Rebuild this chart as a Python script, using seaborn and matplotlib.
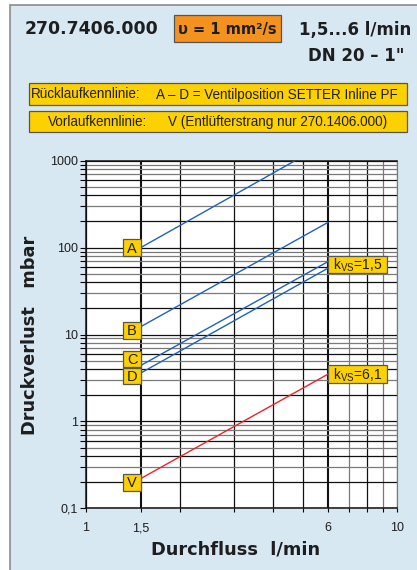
import numpy as np
import pandas as pd
import seaborn as sns
import matplotlib.pyplot as plt
from matplotlib import font_manager
from matplotlib.patches import Rectangle
from matplotlib.transforms import ScaledTranslation
from matplotlib.ticker import LogLocator, NullLocator, NullFormatter

# Kennlinien, Anfangs- und Endpunkt (Durchfluss l/min, Druckverlust mbar)
curves = ['A', 'B', 'C', 'D', 'V']
flow_A = [1.5, 4.7]
loss_A = [100, 1000]
flow_B = [1.5, 6.0]
loss_B = [12.3, 195]
flow_C = [1.5, 6.0]
loss_C = [4.4, 69]
flow_D = [1.5, 6.0]
loss_D = [3.6, 58]
flow_V = [1.5, 6.0]
loss_V = [0.22, 3.5]

x_ticks = [1, 1.5, 2, 3, 4, 5, 6, 7, 8, 9, 10]
x_ticklabels = ['1', '1,5', '', '', '', '', '6', '', '', '', '10']
y_ticks = [0.1, 1, 10, 100, 1000]
y_ticklabels = ['0,1', '1', '10', '100', '1000']
kvs_text = {'D': '1,5', 'V': '6,1'}

flows = {'A': flow_A, 'B': flow_B, 'C': flow_C, 'D': flow_D, 'V': flow_V}
losses = {'A': loss_A, 'B': loss_B, 'C': loss_C, 'D': loss_D, 'V': loss_V}
df = pd.DataFrame([(c, q, p) for c in curves for q, p in zip(flows[c], losses[c])],
                  columns=['curve', 'flow', 'loss'])

sns.set_style('white')
plt.rcParams['font.family'] = ['DejaVu Sans']
names = {f.name for f in font_manager.fontManager.ttflist}
NARROW = 'Liberation Sans Narrow' if 'Liberation Sans Narrow' in names else 'Liberation Sans'
ns = 1.0 if NARROW == 'Liberation Sans Narrow' else 0.82

W, H = 417, 570
BLUE_BG = '#d8e8f2'
YELLOW = '#fdd000'
ORANGE = '#f5921e'
EDGE = '#555555'
INK = '#1e1e1e'

fig = plt.figure(figsize=(W / 100, H / 100), dpi=100, facecolor='white')

def fx(px):
    return px / W

def fy(py):
    return 1 - py / H

# hellblauer Hintergrund mit Rahmen
fig.patches.append(Rectangle((fx(10), -0.05), 1.0, fy(5) + 0.05, transform=fig.transFigure,
                             facecolor=BLUE_BG, edgecolor='#8c8c8c', lw=1.2, zorder=-5))

# Kopfzeile
fig.text(fx(25), fy(29.5), '270.7406.000', fontsize=12.4, fontweight='bold', color=INK,
         ha='left', va='center')
fig.patches.append(Rectangle((fx(174), fy(42)), fx(107), 27 / H, transform=fig.transFigure,
                             facecolor=ORANGE, edgecolor=EDGE, lw=0.9, zorder=-1))
fig.text(fx(227.5), fy(29.5), 'υ = 1 mm²/s', fontsize=10.5, fontweight='bold', color=INK,
         ha='center', va='center')
fig.text(fx(411), fy(29.5), '1,5...6 l/min', fontsize=12, fontweight='bold', color=INK,
         ha='right', va='center')
fig.text(fx(404), fy(56), 'DN 20 – 1"', fontsize=12, fontweight='bold', color=INK,
         ha='right', va='center')

for top, bottom in [(83, 105), (111, 132)]:
    fig.patches.append(Rectangle((fx(29), fy(bottom)), fx(378), (bottom - top) / H,
                                 transform=fig.transFigure, facecolor=YELLOW, edgecolor=EDGE,
                                 lw=0.9, zorder=-1))
fs_box = 11.9 * ns
fig.text(fx(31), fy(94.5), 'Rücklaufkennlinie:', fontsize=fs_box, family=NARROW, color=INK,
         ha='left', va='center')
fig.text(fx(156), fy(94.5), 'A – D = Ventilposition SETTER Inline PF', fontsize=fs_box, family=NARROW,
         color=INK, ha='left', va='center')
fig.text(fx(147), fy(122), 'Vorlaufkennlinie:', fontsize=fs_box, family=NARROW, color=INK,
         ha='right', va='center')
fig.text(fx(168), fy(122), 'V (Entlüfterstrang nur 270.1406.000)', fontsize=fs_box, family=NARROW,
         color=INK, ha='left', va='center')

# Diagramm
ax = fig.add_axes([fx(86), fy(508.3), fx(311), 347.6 / H])
ax.set_facecolor('white')
palette = {'A': '#1f62b8', 'B': '#1f62b8', 'C': '#1f62b8', 'D': '#1f62b8', 'V': '#e8242c'}
sns.lineplot(data=df, x='flow', y='loss', hue='curve', palette=palette, estimator=None,
             legend=False, linewidth=1.0, ax=ax, zorder=3)
ax.set_xscale('log')
ax.set_yscale('log')
ax.set_xlim(1, 10)
ax.set_ylim(0.1, 1000)

ax.set_xticks(x_ticks)
ax.set_xticklabels(x_ticklabels, family='Liberation Sans', fontsize=9, color=INK)
ax.xaxis.set_minor_locator(NullLocator())
ax.set_yticks(y_ticks)
ax.set_yticklabels(y_ticklabels, family='Liberation Sans', fontsize=9, color=INK)
ax.yaxis.set_minor_locator(LogLocator(base=10, subs=np.arange(2, 10), numticks=20))
ax.yaxis.set_minor_formatter(NullFormatter())
ax.tick_params(axis='y', which='both', direction='out', length=4.5, width=0.8, color='black',
               left=True, pad=1.5)
ax.tick_params(axis='x', which='major', direction='out', length=3, width=0.8, color='black',
               bottom=True, pad=7)

ax.grid(True, which='major', axis='both', color='#111111', lw=0.9)
ax.grid(True, which='minor', axis='y', color='#111111', lw=0.9)
ax.set_axisbelow(True)

for loc, tick in zip(ax.yaxis.get_minorticklocs(), ax.yaxis.get_minor_ticks()):
    m = round(loc / 10 ** np.floor(np.log10(loc) + 1e-9))
    if m in (3, 5, 7, 8, 9):
        tick.gridline.set_color('#7a7a7a')
for loc, tick in zip(ax.get_xticks(), ax.xaxis.get_major_ticks()):
    if loc in (7, 9, 10):
        tick.gridline.set_color('#7a7a7a')
    if loc in (1.5, 6):
        tick.gridline.set_linewidth(1.5)

for side in ['left', 'bottom', 'top']:
    ax.spines[side].set_color('#111111')
    ax.spines[side].set_linewidth(1.1)
ax.spines['right'].set_color('#7a7a7a')
ax.spines['right'].set_linewidth(0.9)

ax.set_xlabel('Durchfluss  l/min', fontsize=12.8, fontweight='bold', color=INK, va='center')
ax.xaxis.set_label_coords((236 - 86) / 311, (508.3 - 549) / 347.6)
ax.set_ylabel('Druckverlust   mbar', fontsize=12.8, fontweight='bold', color=INK, va='center')
ax.yaxis.set_label_coords((30 - 86) / 311, (508.3 - 335.5) / 347.6)


def tag(x, y, text, left, bottom, w, h, fs):
    # Kaestchen fester Groesse (in Pixel) an einem Datenpunkt
    tr = fig.dpi_scale_trans + ScaledTranslation(x, y, ax.transData)
    ax.add_patch(Rectangle((left / 100, bottom / 100), w / 100, h / 100, transform=tr,
                           facecolor=YELLOW, edgecolor=EDGE, lw=0.9, clip_on=False, zorder=5))
    cap = fs * 100 / 72 * 0.72
    ax.text((left + w / 2) / 100, (bottom + h / 2 - cap / 2) / 100, text, transform=tr,
            ha='center', va='baseline', fontsize=fs, family=NARROW, color=INK, zorder=6,
            clip_on=False)


letter_dy = {'A': 0, 'B': -3.5, 'C': 6.5, 'D': -3, 'V': -3.7}
for c in curves:
    tag(flows[c][0], losses[c][0], c, -17.4, letter_dy[c] - 8.4, 17.4, 16.8, 12.8 * ns)

kvs_dy = {'D': 3.5, 'V': 0}
for c, kv in kvs_text.items():
    tag(flows[c][-1], losses[c][-1], 'k$_{\\mathregular{VS}}$=' + kv, 0, kvs_dy[c] - 8.8,
        58.7, 17.6, 12.2 * ns)

fig.savefig('out.png', dpi=100, facecolor='white')
